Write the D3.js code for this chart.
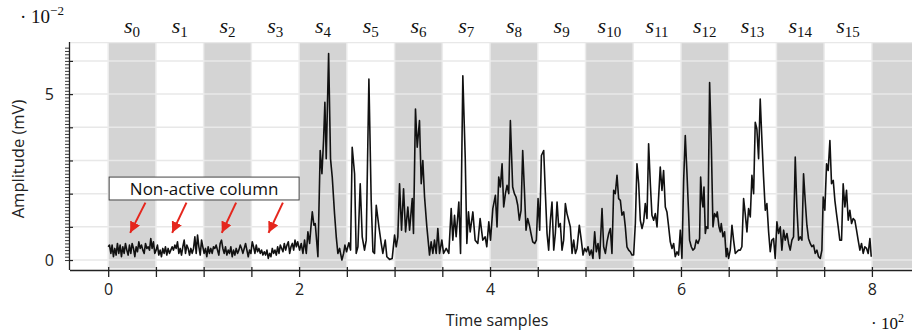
<!DOCTYPE html>
<html>
<head>
<meta charset="utf-8">
<script src="https://cdn.jsdelivr.net/npm/d3@7/dist/d3.min.js"></script>
<style>
  body { margin: 0; background: #fff; }
  svg { display: block; }
  .tick text { font-family: "Open Sans", sans-serif; fill: #222; }
</style>
</head>
<body>
<div id="chart"></div>
<script>
// column categories (s_0 ... s_15, plus the trailing unlabeled column)
let columnIndex = [0, 1, 2, 3, 4, 5, 6, 7, 8, 9, 10, 11, 12, 13, 14, 15, 16];
let columnWidth = 50; // time samples per column
let xTickValues = [0, 50, 100, 150, 200, 250, 300, 350, 400, 450, 500, 550, 600, 650, 700, 750, 800];
let xTickLabels = [0, 200, 400, 600, 800];
let yGridValues = [0, 1, 2, 3, 4, 5, 6];
let yTickLabels = [0, 5];

// signal: time sample index and amplitude (units of 1e-2 mV)
let timeSamples = [
  // non-active columns s0..s3
  0, 1.4, 2.8, 4.1, 5.5, 6.9, 8.3, 9.7, 11.1, 12.5, 13.9,
  15.3, 16.7, 18.1, 19.5, 20.9, 22.3, 23.7, 25.1, 26.5, 27.9,
  29.3, 30.7, 32.1, 33.5, 34.9, 36.3, 37.7, 39.1, 40.5, 41.9,
  43.3, 44.6, 46.0, 47.4, 48.8, 50.2, 51.6, 53.0, 54.4, 55.8,
  57.2, 58.6, 60.0, 61.4, 62.8, 64.2, 65.6, 67.0, 68.4, 69.8,
  71.2, 72.6, 74.0, 75.4, 76.8, 78.2, 79.6, 81.0, 82.4, 83.8,
  85.2, 86.6, 88.0, 89.4, 90.8, 92.2, 93.6, 95.0, 96.4, 97.8,
  99.1, 100.5, 101.9, 103.3, 104.7, 106.1, 107.5, 108.9, 110.3, 111.7,
  113.1, 114.5, 115.9, 117.3, 118.7, 120.1, 121.5, 122.9, 124.3, 125.7,
  127.1, 128.5, 129.9, 131.3, 132.7, 134.1, 135.5, 136.9, 138.3, 139.7,
  141.1, 142.5, 143.9, 145.3, 146.7, 148.1, 149.5, 150.9, 152.3, 153.7,
  155.1, 156.5, 157.9, 159.3, 160.7, 162.1, 163.5, 164.9, 166.3, 167.7,
  169.1, 170.5, 171.9, 173.3, 174.7, 176.1, 177.5, 178.9, 180.3, 181.7,
  183.1, 184.5, 185.9, 187.3, 188.7, 190.1, 191.5, 192.9, 194.3, 195.7,
  197.1, 198.5,
  // s4..s7
  200.5, 202.2, 204.0, 205.7, 207.5, 209.2, 211.0, 212.4, 213.8, 215.5,
  216.9, 218.3, 219.7, 222.1, 223.9, 225.6, 227.0, 228.4, 230.9, 232.9,
  234.7, 237.1, 238.9, 240.6, 242.4, 244.8, 246.6, 248.0, 249.7, 252.1,
  253.9, 255.6, 258.1, 259.8, 261.6, 264.0, 266.1, 268.5, 270.3, 273.1,
  275.5, 277.3, 279.0, 280.8, 283.6, 286.0, 287.7, 290.2, 291.9, 294.7,
  297.5, 300.0, 301.7, 303.4, 305.2, 307.3, 309.4, 311.5, 313.9, 315.7,
  318.5, 319.8, 321.9, 323.7, 326.1, 327.9, 329.6, 331.4, 333.8, 336.6,
  338.3, 340.1, 341.8, 343.6, 345.3, 347.1, 349.5, 351.3, 354.1, 356.8,
  359.3, 361.0, 362.8, 364.5, 367.3, 369.1, 371.5, 374.0, 375.7, 377.4,
  379.2, 382.0, 384.4, 387.2, 389.6, 392.4, 394.9, 396.6, 398.7, 400.5,
  402.9,
  // s8..s11
  405.6, 407.3, 409.1, 410.8, 412.6, 414.3, 416.1, 417.8, 419.6, 421.3,
  423.7, 425.5, 427.2, 429.0, 430.7, 432.5, 434.2, 436.0, 437.7, 439.4,
  441.2, 442.9, 444.7, 446.8, 448.5, 450.3, 452.0, 453.8, 456.2, 457.9,
  459.7, 461.4, 463.2, 464.9, 466.7, 468.4, 470.2, 471.9, 473.6, 475.4,
  477.1, 478.9, 480.6, 482.4, 484.1, 485.9, 487.6, 489.4, 491.1, 493.5,
  495.6, 497.4, 499.1, 500.9, 502.6, 504.4, 506.1, 507.8, 509.6, 511.3,
  513.1, 514.8, 517.3, 519.0, 520.8, 522.5, 524.3, 526.0, 527.7, 529.5,
  531.2, 533.0, 534.7, 536.5, 538.2, 540.0, 541.7, 543.4, 545.2, 546.9,
  548.7, 550.4, 552.2, 553.9, 555.7, 557.4, 559.2, 560.9, 562.6, 564.4,
  566.1, 567.9, 569.6, 571.4, 573.1, 574.9, 578.3, 580.1, 581.8, 583.6,
  585.3, 587.1, 588.8, 590.6, 592.3, 594.0, 595.8, 597.5, 599.3, 601.0,
  602.8, 604.5, 606.3, 608.0,
  // s12..s15
  609.0, 610.8, 612.5, 614.3, 616.0, 617.8, 619.5, 620.6, 622.0, 623.0,
  624.1, 625.5, 626.5, 628.2, 630.0, 631.7, 633.5, 635.2, 637.0, 638.0,
  639.8, 641.2, 642.2, 644.0, 645.7, 647.4, 648.5, 649.9, 651.6, 653.4,
  655.1, 656.9, 658.6, 660.3, 662.1, 663.8, 665.6, 667.3, 669.1, 670.8,
  672.6, 674.3, 676.1, 677.8, 679.5, 681.3, 683.0, 684.8, 686.5, 688.3,
  690.0, 691.8, 693.5, 695.2, 697.0, 698.7, 700.5, 702.2, 704.0, 705.7,
  707.5, 709.2, 711.0, 712.7, 714.4, 716.2, 717.9, 719.7, 721.4, 723.2,
  724.9, 726.7, 728.4, 730.1, 731.9, 733.6, 735.4, 737.1, 738.9, 740.6,
  742.4, 744.1, 745.9, 747.6, 749.0, 750.7, 752.5, 754.2, 756.0, 757.7,
  759.5, 761.2, 762.9, 764.7, 766.4, 768.2, 769.9, 771.7, 773.4, 775.2,
  776.9, 778.7, 780.4, 782.1, 783.9, 785.6, 787.4, 789.1, 790.9, 792.6,
  794.4, 796.1, 797.9, 799.3
];

let amplitude = [
  // non-active columns s0..s3
  .40, .45, .20, .45, .10, .35, .15, .50, .20, .45, .10,
  .40, .20, .50, .30, .15, .45, .20, .50, .35, .10,
  .40, .25, .55, .35, .45, .30, .20, .50, .35, .40,
  .30, .65, .35, .55, .20, .30, .45, .15, .30, .10,
  .35, .20, .40, .15, .35, .20, .30, .40, .30, .45,
  .35, .55, .20, .35, .15, .40, .60, .20, .45, .35,
  .15, .35, .20, .35, .70, .20, .75, .40, .15, .60,
  .40, .20, .35, .10, .40, .20, .35, .20, .40, .35,
  .45, .30, .15, .50, .60, .35, .20, .40, .15, .30,
  .20, .40, .10, .30, .15, .35, .20, .30, .45, .35,
  .20, .35, .50, .30, .10, .30, .20, .55, .40, .20,
  .45, .25, .35, .20, .30, .15, .25, .15, .30, .05,
  .20, .10, .35, .20, .30, .15, .40, .20, .45, .35,
  .25, .50, .30, .45, .55, .20, .40, .50, .30, .60,
  .40, .55,
  // s4..s7
  .30, .50, .20, .60, .20, .85, .50, 1.0, 1.45, 1.05,
  1.10, .60, .10, 3.30, 2.60, 3.60, 4.75, 3.05, 6.22, 3.05,
  2.50, 1.40, .70, .20, .35, 0, .20, .45, .25, .52,
  .30, 3.40, 2.60, .20, .40, 2.30, .70, .30, .60, 5.45,
  1.80, .25, .20, 1.65, 1.0, .50, .20, .60, .10, .02,
  .05, .75, .40, .70, 2.30, .90, 2.15, .85, 1.60, .90,
  1.85, .80, 4.55, 3.40, 4.20, 2.30, 3.00, 1.90, 1.00, .15,
  .55, .20, .60, .20, .95, .20, .60, .20, .35, .20,
  1.55, .60, 1.35, .70, 1.75, .20, 5.55, 3.10, .50, 1.45,
  .85, 1.45, .60, .50, 1.25, .60, .70, .40, 1.15, .60,
  1.55,
  // s8..s11
  1.95, 1.00, 2.50, 2.20, 2.90, 1.60, 2.00, 2.25, 2.00, 4.20,
  2.20, 2.00, 1.90, 1.65, 1.20, 1.50, 3.30, 2.10, .90, 1.25,
  1.05, .80, .55, .50, .60, 1.85, .90, 3.15, 3.30, 2.05,
  .80, .30, 1.20, 1.75, .30, .80, 1.75, 1.00, 1.10, .30,
  .60, 1.70, 1.40, 1.20, 1.00, .20, .60, .20, .35, 1.05,
  .60, .15, .35, .25, .40, .15, .30, .05, .85, .25,
  .50, .05, 1.55, .40, .20, .55, .80, .95, .20, 2.10,
  2.00, 2.55, 1.85, 1.80, 1.35, 1.45, 1.00, .40, .30, .25,
  .15, .15, 1.10, 2.90, 2.30, 1.20, .95, 1.15, 1.70, 1.25,
  3.50, 2.30, 1.35, 1.20, 1.40, 1.00, 2.80, 2.10, 2.70, 1.60,
  1.45, 1.00, .55, .35, .50, .10, .25, .15, .90, .05,
  2.40, 3.75, 2.60, 1.40,
  // s12..s15
  .60, .40, .30, .35, .60, .50, .65, 2.50, 1.80, 1.60,
  2.20, .80, 1.00, .95, 5.35, 3.60, 1.00, 1.40, 1.30, 1.45,
  1.00, .85, 1.10, .70, .85, .10, .35, .05, .30, 1.05,
  .60, .20, .25, .30, .30, .40, 1.85, 1.40, .85, 1.55,
  1.30, 2.55, 2.00, 4.15, 3.95, 3.05, 4.85, 3.60, 2.50, 1.50,
  1.70, .85, .25, .60, .65, .05, 1.15, .80, 1.00, .30,
  .90, .60, .80, .50, .30, .60, .70, 3.10, 1.60, .60,
  .70, .60, 2.60, 1.80, 1.05, .65, .50, .40, .45, .20,
  .30, .10, .05, .30, 1.90, 1.50, 2.90, 2.70, 3.60, 2.30,
  2.40, 1.80, 1.40, 1.00, .60, .60, 2.30, 1.60, 2.10, 1.20,
  1.50, 1.10, 1.25, 1.20, .90, .60, .30, .50, .20, .40,
  .35, .20, .65, .10
];

// annotation: box in data units, arrows from box to non-active columns
let noteText = "Non-active column";
let noteBoxT = [1, 200];
let noteBoxV = [1.81, 2.5];
let arrowTailT = [39, 82, 134, 183];
let arrowTipT = [23, 67, 119, 168];
let arrowTailV = 1.73;
let arrowTipV = 0.82;

let width = 914, height = 333;
let plotLeft = 70, plotRight = 912, plotTop = 42, plotBottom = 270;

let svg = d3.select("#chart").append("svg")
  .attr("width", width)
  .attr("height", height);

let x = d3.scaleLinear().domain([-40, 842]).range([plotLeft, plotRight]);
let y = d3.scaleLinear().domain([-0.3, 6.57]).range([plotBottom, plotTop]);

let defs = svg.append("defs");
defs.append("clipPath").attr("id", "plotClip")
  .append("rect")
  .attr("x", plotLeft).attr("y", plotTop)
  .attr("width", plotRight - plotLeft).attr("height", plotBottom - plotTop);

let plot = svg.append("g").attr("clip-path", "url(#plotClip)");

// alternating gray columns
plot.selectAll("rect.col")
  .data(columnIndex.filter(i => i % 2 === 0))
  .join("rect")
  .attr("class", "col")
  .attr("x", i => x(i * columnWidth))
  .attr("width", x(columnWidth) - x(0))
  .attr("y", plotTop)
  .attr("height", y(-0.25) - plotTop)
  .attr("fill", "#d4d4d4");

// grid
plot.selectAll("line.hgrid")
  .data(yGridValues)
  .join("line")
  .attr("class", "hgrid")
  .attr("x1", plotLeft).attr("x2", plotRight)
  .attr("y1", d => y(d)).attr("y2", d => y(d))
  .attr("stroke", "#e8e8e8").attr("stroke-width", 1.5);

plot.selectAll("line.vgrid")
  .data(xTickValues)
  .join("line")
  .attr("class", "vgrid")
  .attr("x1", d => x(d)).attr("x2", d => x(d))
  .attr("y1", plotTop).attr("y2", y(-0.25))
  .attr("stroke", "#ececec").attr("stroke-width", 1.5);

plot.append("line")
  .attr("x1", plotLeft).attr("x2", plotRight)
  .attr("y1", plotTop + 0.5).attr("y2", plotTop + 0.5)
  .attr("stroke", "#e8e8e8").attr("stroke-width", 1.5);

// signal
let signal = timeSamples.map((t, i) => ({ t: t, v: amplitude[i] }));
let line = d3.line().x(d => x(d.t)).y(d => y(d.v));

plot.append("path")
  .datum(signal)
  .attr("d", line)
  .attr("fill", "none")
  .attr("stroke", "#111")
  .attr("stroke-width", 1.6)
  .attr("stroke-linejoin", "round");

// x axis
let xAxis = d3.axisBottom(x)
  .tickValues(xTickValues)
  .tickSize(7)
  .tickFormat(d => xTickLabels.includes(d) ? d / 100 : "");

svg.append("g")
  .attr("transform", `translate(0,${plotBottom})`)
  .call(xAxis)
  .call(g => g.select(".domain").attr("d", `M${plotLeft},0.5H${plotRight}`).attr("stroke", "#222").attr("stroke-width", 1.3))
  .call(g => g.selectAll(".tick line").attr("y1", -3).attr("stroke", "#222").attr("stroke-width", 1.3))
  .call(g => g.selectAll(".tick text").attr("y", 14).attr("font-size", 16));

// y axis: minor ticks every 0.1, major at integers
let minorTicks = d3.range(0, 65).map(k => k / 10);
svg.append("g")
  .attr("transform", `translate(${plotLeft},0)`)
  .call(d3.axisLeft(y).tickValues(minorTicks).tickSize(5).tickFormat(""))
  .call(g => g.select(".domain").attr("d", `M-0.5,${plotTop}V${plotBottom}`).attr("stroke", "#222").attr("stroke-width", 1.3))
  .call(g => g.selectAll(".tick line").attr("stroke", "#222").attr("stroke-width", 0.9));

svg.append("g")
  .attr("transform", `translate(${plotLeft},0)`)
  .call(d3.axisLeft(y).tickValues(yGridValues).tickSize(7)
    .tickFormat(d => yTickLabels.includes(d) ? d : ""))
  .call(g => g.select(".domain").remove())
  .call(g => g.selectAll(".tick line").attr("x2", 3).attr("stroke", "#222").attr("stroke-width", 1.2))
  .call(g => g.selectAll(".tick text").attr("x", -16).attr("font-size", 16));

// column labels s_i
let labels = svg.append("g")
  .attr("font-family", "'Liberation Serif', 'DejaVu Serif', serif")
  .attr("fill", "#111");

labels.selectAll("text")
  .data(columnIndex.slice(0, 16))
  .join("text")
  .attr("x", i => x(i * columnWidth + columnWidth / 2))
  .attr("y", 33)
  .attr("text-anchor", "middle")
  .each(function(i) {
    let t = d3.select(this);
    t.append("tspan").attr("font-size", 22).attr("font-style", "italic").text("s");
    t.append("tspan").attr("font-size", 15).attr("dy", 4).text(i);
  });

// scale factors
let factorTop = svg.append("text")
  .attr("x", 20).attr("y", 23)
  .attr("font-family", "'Liberation Serif', 'DejaVu Serif', serif")
  .attr("fill", "#111");
factorTop.append("tspan").attr("font-size", 19).text("· 10");
factorTop.append("tspan").attr("font-size", 13).attr("dy", -8).text("−2");

let factorBottom = svg.append("text")
  .attr("x", 871).attr("y", 329)
  .attr("font-family", "'Liberation Serif', 'DejaVu Serif', serif")
  .attr("fill", "#111");
factorBottom.append("tspan").attr("font-size", 17).text("· 10");
factorBottom.append("tspan").attr("font-size", 12).attr("dy", -7).text("2");

// axis titles
svg.append("text")
  .attr("x", 497).attr("y", 326)
  .attr("text-anchor", "middle")
  .attr("font-family", "'Open Sans', sans-serif")
  .attr("font-size", 16)
  .attr("fill", "#222")
  .text("Time samples");

svg.append("text")
  .attr("transform", "translate(24,159) rotate(-90)")
  .attr("text-anchor", "middle")
  .attr("font-family", "'Open Sans', sans-serif")
  .attr("font-size", 16.5)
  .attr("fill", "#222")
  .text("Amplitude (mV)");

// annotation
defs.append("marker")
  .attr("id", "redHead")
  .attr("viewBox", "0 0 10 10")
  .attr("refX", 10).attr("refY", 5)
  .attr("markerUnits", "userSpaceOnUse")
  .attr("markerWidth", 11).attr("markerHeight", 11)
  .attr("orient", "auto")
  .append("path")
  .attr("d", "M0,0L10,5L0,10Z")
  .attr("fill", "#e5261d");

svg.selectAll("line.arrow")
  .data(arrowTipT)
  .join("line")
  .attr("class", "arrow")
  .attr("x1", (d, i) => x(arrowTailT[i]))
  .attr("y1", y(arrowTailV))
  .attr("x2", d => x(d))
  .attr("y2", y(arrowTipV))
  .attr("stroke", "#e5261d")
  .attr("stroke-width", 2)
  .attr("marker-end", "url(#redHead)");

svg.append("rect")
  .attr("x", x(noteBoxT[0]))
  .attr("y", y(noteBoxV[1]))
  .attr("width", x(noteBoxT[1]) - x(noteBoxT[0]))
  .attr("height", y(noteBoxV[0]) - y(noteBoxV[1]))
  .attr("fill", "#fff")
  .attr("stroke", "#444")
  .attr("stroke-width", 1);

svg.append("text")
  .attr("x", (x(noteBoxT[0]) + x(noteBoxT[1])) / 2)
  .attr("y", y(noteBoxV[0]) - 5)
  .attr("text-anchor", "middle")
  .attr("font-family", "'Open Sans', sans-serif")
  .attr("font-size", 17)
  .attr("fill", "#111")
  .text(noteText);
</script>
</body>
</html>
